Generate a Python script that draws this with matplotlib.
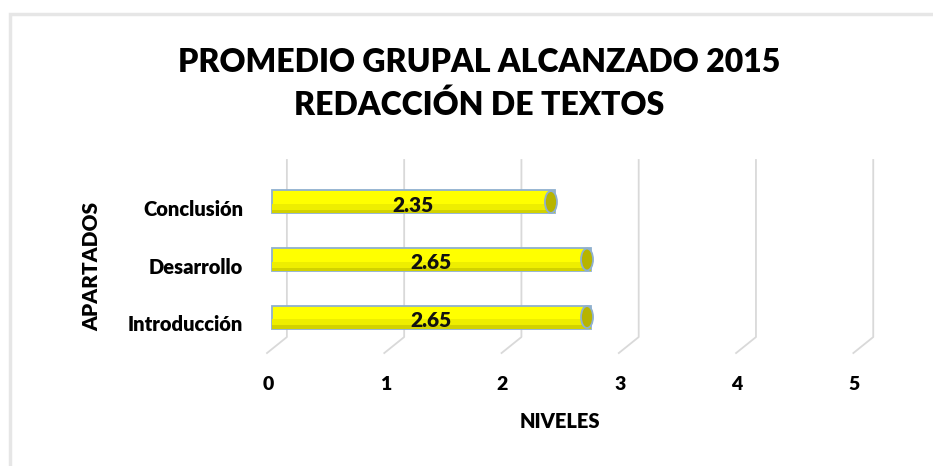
import matplotlib.pyplot as plt
from matplotlib.patches import Ellipse, Rectangle
import matplotlib.transforms as mtransforms

plt.rcParams['font.family'] = ['Lato', 'DejaVu Sans']
plt.rcParams['font.weight'] = 'heavy'

# data
categorias = ['Introducción', 'Desarrollo', 'Conclusión']
promedios = [2.65, 2.65, 2.35]
niveles = [0, 1, 2, 3, 4, 5]

titulo = ['PROMEDIO GRUPAL ALCANZADO 2015', 'REDACCIÓN DE TEXTOS']

W, H = 933, 466
fig = plt.figure(figsize=(W / 100, H / 100), dpi=100)

# chart frame (light grey border)
fig.patches.append(Rectangle((10 / W, -0.1), 1.2, (H - 14) / H + 0.1,
                             transform=fig.transFigure, fill=False,
                             edgecolor='#e6e6e6', lw=2.5))

px = 121.0  # pixels per level unit
x0 = 268    # pixel of level 0
ax = fig.add_axes([x0 / W, (H - 355) / H, 643 / W, 195 / H])
ax.set_xlim(0, 643 / px)
ax.set_ylim(-0.66, 2.73)
for s in ax.spines.values():
    s.set_visible(False)

# back wall grid (3d look)
for k in niveles:
    xt = (15 + 118 * k) / px
    xb = (-5 + 118 * k) / px
    ax.plot([xt, xt, xb], [2.73, -0.348, -0.626], color='#d9d9d9', lw=1.3,
            zorder=1, clip_on=False, solid_joinstyle='round')

y = list(range(len(categorias)))
ax.barh(y, promedios, height=0.4, color='#ffff00', edgecolor='#8fb0cf',
        lw=1.3, zorder=3)
# darker shading at bottom of cylinders
ax.barh([v - 0.12 for v in y], promedios, height=0.16, color='#eeee00',
        lw=0, zorder=3.5)
ax.barh([v - 0.17 for v in y], promedios, height=0.06, color='#d2d200',
        lw=0, zorder=3.6)
for yi, v in zip(y, promedios):
    ax.add_patch(Ellipse((v - 0.03, yi), 0.1, 0.38, facecolor='#b7b400',
                         edgecolor='#8fb0cf', lw=1.3, zorder=4))
    ax.text(v / 2, yi - 0.06, f'{v:.2f}', ha='center', va='center',
            fontsize=15, fontweight='heavy', color='#111111', zorder=5)

ax.set_yticks(y)
ax.set_yticklabels(categorias, fontsize=14.5, fontweight='heavy')
ax.set_xticks([(-4 + 118 * k) / px for k in niveles])
ax.set_xticklabels([str(k) for k in niveles], fontsize=14, fontweight='heavy')
ax.tick_params(axis='y', length=0, pad=18)
ax.tick_params(axis='x', length=0, pad=15)
shift = mtransforms.ScaledTranslation(0, -6 / 100, fig.dpi_scale_trans)
for lab in ax.get_yticklabels():
    lab.set_transform(lab.get_transform() + shift)

fig.text(560 / W, 1 - 422 / H, 'NIVELES', ha='center', va='center',
         fontsize=14.5, fontweight='heavy')
fig.text(92 / W, 1 - 266 / H, 'APARTADOS', ha='center', va='center',
         rotation=90, fontsize=15, fontweight='heavy')
fig.text(479 / W, 1 - 62 / H, titulo[0], ha='center', va='center',
         fontsize=23, fontweight='heavy')
fig.text(479 / W, 1 - 105 / H, titulo[1], ha='center', va='center',
         fontsize=23, fontweight='heavy')

fig.savefig('out.png', dpi=100)
